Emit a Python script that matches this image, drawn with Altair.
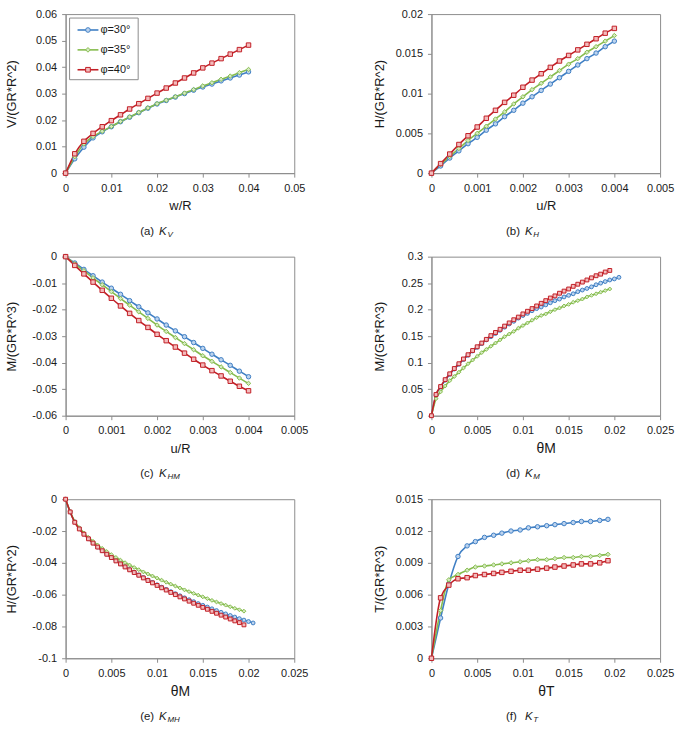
import altair as alt
import pandas as pd

# ---------------- data ----------------
SERIES = ["φ=30°", "φ=35°", "φ=40°"]
LINE_COLORS = ["#3F7FC4", "#86BC4E", "#C21F26"]
FILL_COLORS = ["#BCD3EE", "#D4E9C0", "#F3BBBC"]
SHAPES = ["circle", "diamond", "square"]

# (a) K_V
a_x = [0, 0.002, 0.004, 0.006, 0.008, 0.010, 0.012, 0.014, 0.016, 0.018, 0.020,
       0.022, 0.024, 0.026, 0.028, 0.030, 0.032, 0.034, 0.036, 0.038, 0.040]
a_30 = [0, 0.0054, 0.0098, 0.0133, 0.0156, 0.0175, 0.0194, 0.0211, 0.0228, 0.0245, 0.0261,
        0.0274, 0.0287, 0.0300, 0.0313, 0.0325, 0.0336, 0.0348, 0.0359, 0.0370, 0.0382]
a_35 = [0, 0.0062, 0.0110, 0.0138, 0.0158, 0.0176, 0.0195, 0.0212, 0.0229, 0.0246, 0.0262,
        0.0275, 0.0288, 0.0302, 0.0315, 0.0329, 0.0341, 0.0354, 0.0366, 0.0379, 0.0391]
a_40 = [0, 0.0073, 0.0120, 0.0150, 0.0175, 0.0198, 0.0220, 0.0242, 0.0262, 0.0282, 0.0302,
        0.0321, 0.0340, 0.0359, 0.0378, 0.0397, 0.0415, 0.0432, 0.0449, 0.0466, 0.0483]

# (b) K_H and (c) K_HM
b_x = [0, 0.0002, 0.0004, 0.0006, 0.0008, 0.0010, 0.0012, 0.0014, 0.0016, 0.0018, 0.0020,
       0.0022, 0.0024, 0.0026, 0.0028, 0.0030, 0.0032, 0.0034, 0.0036, 0.0038, 0.0040]
b_30 = [0, 0.0009, 0.0019, 0.0028, 0.0037, 0.0045, 0.0054, 0.0062, 0.0071, 0.0079, 0.0088,
        0.0096, 0.0104, 0.0112, 0.0120, 0.0128, 0.0136, 0.0144, 0.0151, 0.0159, 0.0166]
b_35 = [0, 0.0011, 0.0021, 0.0031, 0.0041, 0.0050, 0.0059, 0.0068, 0.0077, 0.0087, 0.0096,
        0.0105, 0.0113, 0.0121, 0.0129, 0.0137, 0.0144, 0.0152, 0.0159, 0.0166, 0.0173]
b_40 = [0, 0.0012, 0.0024, 0.0036, 0.0047, 0.0058, 0.0069, 0.0079, 0.0089, 0.0098, 0.0108,
        0.0117, 0.0125, 0.0133, 0.0141, 0.0148, 0.0155, 0.0162, 0.0169, 0.0176, 0.0182]

c_30 = [0, -0.0024, -0.0048, -0.0072, -0.0096, -0.0119, -0.0142, -0.0166, -0.0189, -0.0212, -0.0235,
        -0.0258, -0.0280, -0.0302, -0.0324, -0.0346, -0.0368, -0.0389, -0.0410, -0.0432, -0.0453]
c_35 = [0, -0.0027, -0.0053, -0.0080, -0.0106, -0.0132, -0.0158, -0.0183, -0.0208, -0.0233, -0.0258,
        -0.0282, -0.0305, -0.0328, -0.0351, -0.0374, -0.0395, -0.0416, -0.0437, -0.0458, -0.0478]
c_40 = [0, -0.0033, -0.0065, -0.0096, -0.0127, -0.0157, -0.0186, -0.0214, -0.0241, -0.0267, -0.0293,
        -0.0317, -0.0341, -0.0364, -0.0387, -0.0409, -0.0430, -0.0450, -0.0470, -0.0489, -0.0506]

# (d) K_M and (e) K_MH
d_x = [0, 0.0005, 0.0010, 0.0015, 0.0020, 0.0025, 0.0030, 0.0035, 0.0040, 0.0045,
       0.0050, 0.0055, 0.0060, 0.0065, 0.0070, 0.0075, 0.0080, 0.0085, 0.0090, 0.0095,
       0.0100, 0.0105, 0.0110, 0.0115, 0.0120, 0.0125, 0.0130, 0.0135, 0.0140, 0.0145,
       0.0150, 0.0155, 0.0160, 0.0165, 0.0170, 0.0175, 0.0180, 0.0185, 0.0190, 0.0195]
d_x30 = d_x + [0.0200, 0.0205]
d_30 = [0, 0.039, 0.054, 0.067, 0.078, 0.088, 0.097, 0.106, 0.114, 0.122,
        0.129, 0.136, 0.143, 0.149, 0.155, 0.161, 0.167, 0.173, 0.178, 0.184,
        0.189, 0.193, 0.198, 0.202, 0.205, 0.209, 0.213, 0.217, 0.220, 0.224,
        0.227, 0.230, 0.234, 0.237, 0.240, 0.243, 0.247, 0.250, 0.253, 0.256,
        0.258, 0.261]
d_35 = [0, 0.032, 0.045, 0.056, 0.066, 0.074, 0.082, 0.090, 0.098, 0.105,
        0.112, 0.119, 0.125, 0.131, 0.137, 0.143, 0.149, 0.154, 0.159, 0.165,
        0.170, 0.175, 0.180, 0.185, 0.189, 0.192, 0.196, 0.200, 0.203, 0.207,
        0.210, 0.214, 0.217, 0.220, 0.224, 0.227, 0.230, 0.233, 0.236, 0.239]
d_40 = [0, 0.040, 0.055, 0.068, 0.079, 0.089, 0.098, 0.107, 0.115, 0.123,
        0.130, 0.137, 0.144, 0.151, 0.157, 0.163, 0.169, 0.175, 0.181, 0.186,
        0.192, 0.197, 0.202, 0.207, 0.212, 0.217, 0.222, 0.226, 0.231, 0.235,
        0.239, 0.244, 0.248, 0.252, 0.256, 0.260, 0.264, 0.267, 0.271, 0.274]

e_30 = [0, -0.0080, -0.0143, -0.0185, -0.0219, -0.0248, -0.0275, -0.0300, -0.0323, -0.0345,
        -0.0366, -0.0386, -0.0405, -0.0424, -0.0442, -0.0459, -0.0476, -0.0492, -0.0508, -0.0523,
        -0.0538, -0.0553, -0.0567, -0.0581, -0.0594, -0.0607, -0.0620, -0.0632, -0.0644, -0.0656,
        -0.0667, -0.0678, -0.0689, -0.0700, -0.0711, -0.0721, -0.0731, -0.0741, -0.0751, -0.0760,
        -0.0769, -0.0778]
e_35 = [0, -0.0078, -0.0140, -0.0180, -0.0212, -0.0240, -0.0265, -0.0288, -0.0309, -0.0329,
        -0.0348, -0.0366, -0.0383, -0.0399, -0.0414, -0.0429, -0.0443, -0.0457, -0.0470, -0.0483,
        -0.0496, -0.0509, -0.0522, -0.0534, -0.0546, -0.0558, -0.0570, -0.0581, -0.0592, -0.0603,
        -0.0614, -0.0625, -0.0636, -0.0646, -0.0656, -0.0666, -0.0676, -0.0686, -0.0695, -0.0704]
e_40 = [0, -0.0080, -0.0145, -0.0187, -0.0220, -0.0249, -0.0276, -0.0301, -0.0324, -0.0346,
        -0.0367, -0.0388, -0.0407, -0.0426, -0.0444, -0.0461, -0.0478, -0.0495, -0.0511, -0.0526,
        -0.0542, -0.0557, -0.0571, -0.0586, -0.0600, -0.0614, -0.0627, -0.0641, -0.0654, -0.0667,
        -0.0680, -0.0692, -0.0705, -0.0717, -0.0729, -0.0741, -0.0753, -0.0765, -0.0776, -0.0790]

# (f) K_T
f_x = [0, 0.0010, 0.0019, 0.0029, 0.0039, 0.0048, 0.0058, 0.0068, 0.0077, 0.0087, 0.0097,
       0.0106, 0.0116, 0.0126, 0.0135, 0.0145, 0.0155, 0.0164, 0.0174, 0.0184, 0.0193]
f_30 = [0, 0.0038, 0.0070, 0.0096, 0.0106, 0.0110, 0.0114, 0.0116, 0.0118, 0.0120, 0.0121,
        0.0123, 0.0124, 0.0125, 0.0126, 0.0127, 0.0128, 0.0129, 0.0129, 0.0130, 0.0131]
f_35 = [0, 0.0045, 0.0074, 0.0079, 0.0083, 0.0086, 0.0087, 0.0088, 0.0089, 0.0090, 0.0091,
        0.0092, 0.0093, 0.0093, 0.0094, 0.0095, 0.0095, 0.0096, 0.0096, 0.0097, 0.0098]
f_40 = [0, 0.0057, 0.0069, 0.0075, 0.0076, 0.0078, 0.0079, 0.0080, 0.0081, 0.0082, 0.0083,
        0.0083, 0.0084, 0.0085, 0.0086, 0.0087, 0.0088, 0.0089, 0.0089, 0.0090, 0.0092]

# tick labels
TICKS_X_A = [0, 0.01, 0.02, 0.03, 0.04, 0.05]
TICKS_X_BC = [0, 0.001, 0.002, 0.003, 0.004, 0.005]
TICKS_X_DEF = [0, 0.005, 0.01, 0.015, 0.02, 0.025]
TICKS_Y_A = [0, 0.01, 0.02, 0.03, 0.04, 0.05, 0.06]
TICKS_Y_B = [0, 0.005, 0.01, 0.015, 0.02]
TICKS_Y_C = [0, -0.01, -0.02, -0.03, -0.04, -0.05, -0.06]
TICKS_Y_D = [0, 0.05, 0.1, 0.15, 0.2, 0.25, 0.3]
TICKS_Y_E = [0, -0.02, -0.04, -0.06, -0.08, -0.1]
TICKS_Y_F = [0, 0.003, 0.006, 0.009, 0.012, 0.015]

# ---------------- styling ----------------
FONT = "Liberation Sans"
GRAY = "#8C8C8C"
TXT = "#1A1A1A"
W, H = 230, 160
LBL = "datum.value < 0 ? '-' + format(-datum.value, '~g') : format(datum.value, '~g')"


def long_df(xs_list, ys_list):
    rows = []
    for name, xs, ys in zip(SERIES, xs_list, ys_list):
        for x, y in zip(xs, ys):
            rows.append({"x": x, "y": y, "series": name})
    return pd.DataFrame(rows)


def txt(text, x, y, size, italic=False, dy=0):
    return alt.Chart(pd.DataFrame({"t": [text]})).mark_text(
        align="left", baseline="middle", font=FONT, fontSize=size,
        fontStyle="italic" if italic else "normal", color=TXT, dy=dy
    ).encode(text="t:N", x=alt.value(x), y=alt.value(y))


def panel(df, xdom, xvals, ydom, yvals, xtitle, ytitle, tag, sub, left,
          msize, theta=False, legend=False):
    ext = 37 if left else 39
    tpad = 10 if left else 6
    common = dict(labelExpr=LBL, labelOverlap=False, labelFlush=False, labelBound=False,
                  labelSeparation=0, tickCount=len(xvals))
    x_axis = alt.Axis(values=xvals, title=xtitle,
                      titleFontSize=14 if theta else 13, titlePadding=6 if theta else 7, **common)
    common["tickCount"] = len(yvals)
    y_axis = alt.Axis(values=yvals, title=ytitle, titleFontSize=13,
                      minExtent=ext, maxExtent=ext, titlePadding=tpad, **common)
    base = alt.Chart(df)
    lines = base.mark_line(interpolate="monotone", strokeWidth=1.6).encode(
        x=alt.X("x:Q", scale=alt.Scale(domain=xdom, nice=False, zero=False), axis=x_axis),
        y=alt.Y("y:Q", scale=alt.Scale(domain=ydom, nice=False, zero=False), axis=y_axis),
        color=alt.Color("series:N", scale=alt.Scale(domain=SERIES, range=LINE_COLORS), legend=None),
    )
    pts = base.mark_point(filled=True, size=msize, opacity=1, strokeWidth=1).encode(
        x="x:Q", y="y:Q",
        fill=alt.Fill("series:N", scale=alt.Scale(domain=SERIES, range=FILL_COLORS), legend=None),
        stroke=alt.Stroke("series:N", scale=alt.Scale(domain=SERIES, range=LINE_COLORS), legend=None),
        shape=alt.Shape("series:N", scale=alt.Scale(domain=SERIES, range=SHAPES), legend=None),
    )
    layers = [lines, pts,
              txt(tag, 75, H + 59, 11.5),
              txt("K", 94, H + 59, 11.5, italic=True),
              txt(sub, 102.5, H + 59, 8, italic=True, dy=3)]
    if legend:
        one = pd.DataFrame({"t": [0]})
        layers.append(alt.Chart(one).mark_rect(fill="white", stroke=GRAY, strokeWidth=1).encode(
            x=alt.value(4), x2=alt.value(73), y=alt.value(4), y2=alt.value(66)))
        for i, (name, c, f, s) in enumerate(zip(SERIES, LINE_COLORS, FILL_COLORS, SHAPES)):
            yy = 16 + 20 * i
            layers.append(alt.Chart(one).mark_rule(color=c, strokeWidth=1.6).encode(
                x=alt.value(12), x2=alt.value(33), y=alt.value(yy)))
            layers.append(alt.Chart(one).mark_point(shape=s, filled=True, fill=f, stroke=c,
                                                    strokeWidth=1, size=22, opacity=1).encode(
                x=alt.value(22.5), y=alt.value(yy)))
            layers.append(txt(name, 35, yy, 11))
    return alt.layer(*layers).properties(width=W, height=H)


pa = panel(long_df([a_x, a_x, a_x], [a_30, a_35, a_40]), [0, 0.05], TICKS_X_A, [0, 0.06], TICKS_Y_A,
           "w/R", "V/(GR*R^2)", "(a)", "V", True, 20, legend=True)
pb = panel(long_df([b_x, b_x, b_x], [b_30, b_35, b_40]), [0, 0.005], TICKS_X_BC, [0, 0.02], TICKS_Y_B,
           "u/R", "H/(GR*R^2)", "(b)", "H", False, 20)
pc = panel(long_df([b_x, b_x, b_x], [c_30, c_35, c_40]), [0, 0.005], TICKS_X_BC, [-0.06, 0], TICKS_Y_C,
           "u/R", "M/(GR*R^3)", "(c)", "HM", True, 20)
pd_ = panel(long_df([d_x30, d_x, d_x], [d_30, d_35, d_40]), [0, 0.025], TICKS_X_DEF, [0, 0.3], TICKS_Y_D,
            "θM", "M/(GR*R^3)", "(d)", "M", False, 15, theta=True)
pe = panel(long_df([d_x30, d_x, d_x], [e_30, e_35, e_40]), [0, 0.025], TICKS_X_DEF, [-0.1, 0], TICKS_Y_E,
           "θM", "H/(GR*R^2)", "(e)", "MH", True, 15, theta=True)
pf = panel(long_df([f_x, f_x, f_x], [f_30, f_35, f_40]), [0, 0.025], TICKS_X_DEF, [0, 0.015], TICKS_Y_F,
           "θT", "T/(GR*R^3)", "(f)", "T", False, 20, theta=True)

chart = alt.concat(
    pa, pb, pc, pd_, pe, pf, columns=2,
    spacing=alt.RowColnumber(row=84, column=138), bounds="flush",
).properties(
    padding={"left": 5, "top": 5, "right": 0, "bottom": 5}, background="white"
).configure_view(
    stroke=GRAY, strokeWidth=1
).configure_axis(
    domainColor=GRAY, tickColor=GRAY, tickSize=4, grid=False,
    labelFont=FONT, labelFontSize=11, labelColor=TXT, labelPadding=5,
    titleFont=FONT, titleFontWeight="normal", titleColor=TXT,
)

chart.save("out.html", embed_options={"renderer": "svg", "actions": False})
